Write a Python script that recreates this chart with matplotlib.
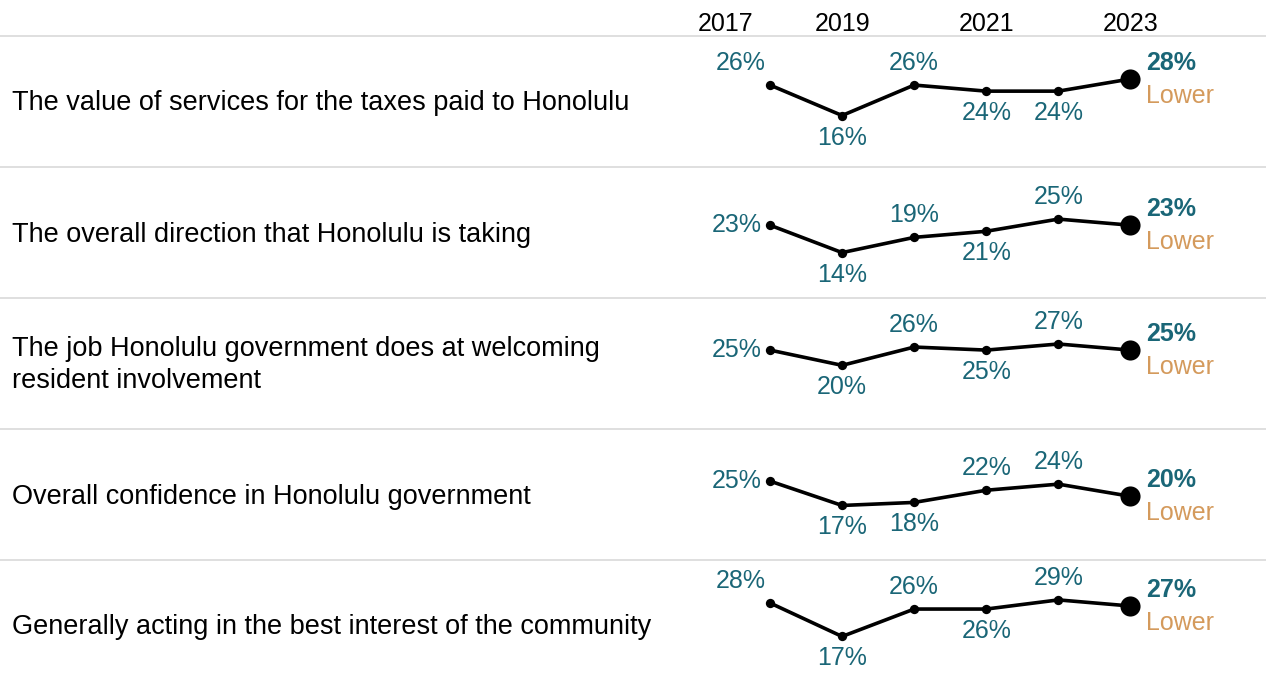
import matplotlib
matplotlib.use("Agg")
import matplotlib.pyplot as plt
from matplotlib.lines import Line2D

plt.rcParams['font.family'] = ['Liberation Sans', 'DejaVu Sans']

# ---- data ----
row_labels = [
    "The value of services for the taxes paid to Honolulu",
    "The overall direction that Honolulu is taking",
    "The job Honolulu government does at welcoming\nresident involvement",
    "Overall confidence in Honolulu government",
    "Generally acting in the best interest of the community",
]
values = [
    [26, 16, 26, 24, 24, 28],
    [23, 14, 19, 21, 25, 23],
    [25, 20, 26, 25, 27, 25],
    [25, 17, 18, 22, 24, 20],
    [28, 17, 26, 26, 29, 27],
]
# label placement for each point (last point handled separately)
placements = [
    ["aboveleft", "below", "above", "below", "below"],
    ["left", "below", "above", "below", "above"],
    ["left", "below", "above", "below", "above"],
    ["left", "below", "below", "above", "above"],
    ["aboveleft", "below", "above", "below", "above"],
]
comparison = ["Lower", "Lower", "Lower", "Lower", "Lower"]
header_labels = ["2017", "2019", "2021", "2023"]
header_pos = [-0.62, 1, 3, 5]

# ---- style ----
TEAL = "#1a6677"
TAN = "#d49a5c"
GRID = "#d9d9d9"
FS = 18
FS_ROW = 19.5

W, H = 1266, 681
fig = plt.figure(figsize=(W / 100, H / 100), dpi=100)

row_top0 = 36
row_h = 131
ax_left, ax_right = 680, 1266
x_idx = list(range(len(values[0])))

for k in range(len(values)):
    top = row_top0 + row_h * k
    ax = fig.add_axes([ax_left / W, 1 - (top + row_h) / H, (ax_right - ax_left) / W, row_h / H])
    ax.set_xlim(-1.248, 6.88)
    ax.set_ylim(-0.9, 42.1)
    ax.patch.set_alpha(0)
    for s in ax.spines.values():
        s.set_visible(False)
    ax.set_yticks([])
    if k == 0:
        ax.xaxis.tick_top()
        ax.set_xticks(header_pos)
        ax.set_xticklabels(header_labels, fontsize=FS, color="black")
        ax.tick_params(axis='x', length=0, pad=0)
    else:
        ax.set_xticks([])

    v = values[k]
    ax.plot(x_idx, v, color="black", lw=2.6, zorder=2, solid_capstyle='round')
    ax.scatter(x_idx[:-1], v[:-1], s=45, color="black", zorder=3, linewidths=0)
    ax.scatter([x_idx[-1]], [v[-1]], s=210, color="black", zorder=3, linewidths=0)

    for i, p in enumerate(placements[k]):
        txt = f"{v[i]}%"
        if p == "above":
            off, ha, va = (0, 22), "center", "center"
        elif p == "below":
            off, ha, va = (0, -22), "center", "center"
        elif p == "left":
            off, ha, va = (-8, 0), "right", "center"
        else:  # aboveleft
            off, ha, va = (-29, 22), "center", "center"
        ax.annotate(txt, (x_idx[i], v[i]), xytext=off, textcoords="offset pixels",
                    ha=ha, va=va, fontsize=FS, color=TEAL)

    ax.annotate(f"{v[-1]}%", (x_idx[-1], v[-1]), xytext=(16, 16), textcoords="offset pixels",
                ha="left", va="center", fontsize=FS, color=TEAL, fontweight="bold")
    ax.annotate(comparison[k], (x_idx[-1], v[-1]), xytext=(16, -17), textcoords="offset pixels",
                ha="left", va="center", fontsize=FS, color=TAN)

    fig.text(12 / W, 1 - (top + row_h / 2 + 2) / H, row_labels[k], ha="left", va="center",
             fontsize=FS_ROW, color="black", linespacing=1.3)

    fig.add_artist(Line2D([0, 1], [1 - top / H, 1 - top / H], transform=fig.transFigure,
                          color=GRID, lw=1.2))

fig.savefig("out.png", dpi=100, facecolor="white")
